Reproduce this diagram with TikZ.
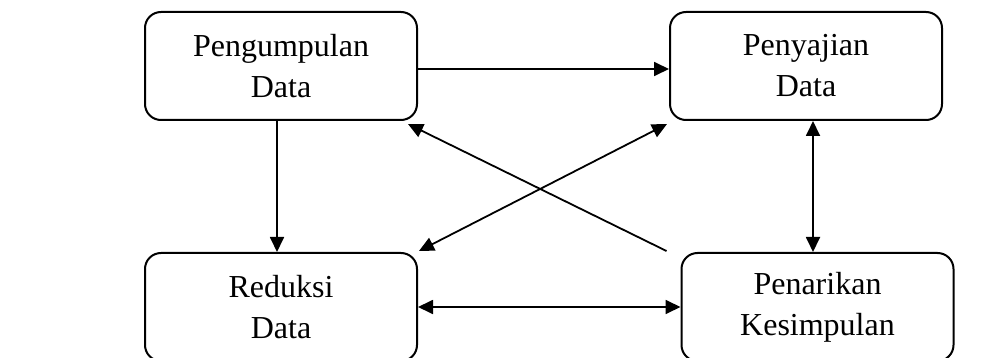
\documentclass[tikz,border=0pt]{standalone}
\usepackage{fontspec}
\setmainfont{Liberation Serif}
\usetikzlibrary{arrows.meta,calc}
\begin{document}
\begin{tikzpicture}[x=1pt,y=-1pt,
  stagebox/.style={draw,line width=2pt,rounded corners=16pt,minimum width=272pt,minimum height=108pt,align=center,inner sep=0pt,
    font=\fontsize{32}{41}\selectfont},
  conn/.style={line width=1.8pt,{Triangle[length=15pt,width=14pt]}-{Triangle[length=15pt,width=14pt]}},
  connone/.style={line width=1.8pt,-{Triangle[length=15pt,width=14pt]}}]
\clip (0,0) rectangle (988,358);
\fill[white] (0,0) rectangle (988,358);
\node[stagebox] (kumpul) at (281,66) {Pengumpulan\\Data};
\node[stagebox] (saji) at (806,66) {Penyajian\\Data};
\node[stagebox] (reduksi) at (281,307) {Reduksi\\Data};
\node[stagebox] (tarik) at (817.5,307) {Penarikan\\Kesimpulan};
\draw[connone] (kumpul.east |- 0,69) -- (saji.west |- 0,69);
\draw[connone] (kumpul.south -| 277,0) -- (reduksi.north -| 277,0);
\draw[conn] (saji.south -| 813,0) -- (tarik.north -| 813,0);
\draw[conn] (reduksi.east) -- (tarik.west);
\draw[connone] ($(tarik.north west)+(-14,-1)$) -- ($(kumpul.south east)+(-10,3)$);
\draw[conn] ($(reduksi.north east)+(1,-1)$) -- ($(saji.south west)+(-2,3)$);
\end{tikzpicture}
\end{document}
